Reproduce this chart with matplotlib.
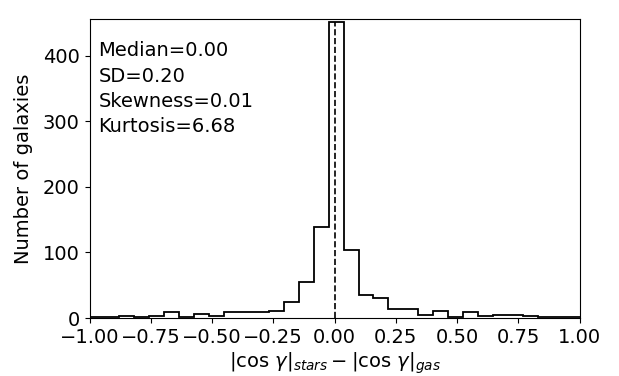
import numpy as np
import matplotlib
matplotlib.use("Agg")
import matplotlib.pyplot as plt

# histogram: 33 bins starting at -1.0
bin_start = -1.0
bin_width = 0.061
counts = [1, 1, 3, 1, 3, 9, 2, 6, 3, 9, 9, 9, 10, 25, 55, 139, 451,
          103, 35, 31, 13, 13, 5, 10, 1, 9, 3, 5, 4, 3, 1, 1, 1]
median = 0.00
stats_labels = ["Median=0.00", "SD=0.20", "Skewness=0.01", "Kurtosis=6.68"]

edges = bin_start + bin_width * np.arange(len(counts) + 1)

fig = plt.figure(figsize=(6.19, 3.76), dpi=100)
ax = fig.add_axes([89.5 / 619, 1 - 318 / 376, 490 / 619, 299 / 376])

ax.stairs(counts, edges, color="k", linewidth=1.3)
ax.vlines(median, 0, max(counts), colors="k", linestyles="--", linewidth=1.2)

ax.set_xlim(-1, 1)
ax.set_ylim(0, 456)
ax.set_xticks(np.arange(-1, 1.01, 0.25))
ax.set_yticks([0, 100, 200, 300, 400])
ax.tick_params(labelsize=14)

ax.set_xlabel(r"$|\cos\,\gamma|_{stars} - |\cos\,\gamma|_{gas}$", fontsize=14, labelpad=3)
ax.set_ylabel("Number of galaxies", fontsize=14, labelpad=7)

ax.text(0.018, 0.925, "\n".join(stats_labels), transform=ax.transAxes,
        fontsize=14, va="top", ha="left", linespacing=1.42)

fig.savefig("out.png", dpi=100)
